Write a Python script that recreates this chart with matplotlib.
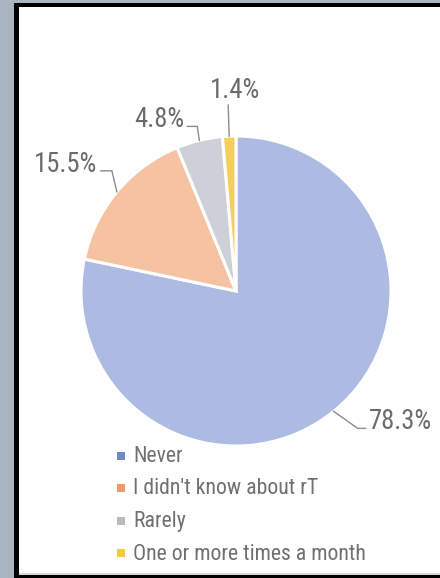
import matplotlib
matplotlib.use("Agg")
import matplotlib.pyplot as plt
from matplotlib.patches import Rectangle
from matplotlib import font_manager
from matplotlib.font_manager import FontProperties
import numpy as np

# ---- data ----
categories = ["Never", "I didn't know about rT", "Rarely", "One or more times a month"]
values = [78.3, 15.5, 4.8, 1.4]
value_labels = ["78.3%", "15.5%", "4.8%", "1.4%"]
pie_colors = ["#adbbe3", "#f5c3a1", "#cdd0d7", "#f4cf5a"]
legend_colors = ["#6f8bc6", "#ec9a6d", "#b9babf", "#f5c944"]

# ---- pick a narrow font if available ----
flist = font_manager.fontManager.ttflist
names = {f.name for f in flist}
fam, stretch = "Liberation Sans", "normal"
for cand in ["Liberation Sans Narrow", "Arial Narrow", "Roboto Condensed", "Open Sans Condensed"]:
    if cand in names:
        fam = cand
        break
else:
    for cand in ["Roboto", "Open Sans", "DejaVu Sans", "Noto Sans", "Liberation Sans"]:
        if any(f.name == cand and f.stretch in ("condensed", "semi-condensed", 600 - 100, 300)
               for f in flist):
            fam, stretch = cand, "condensed"
            break
plt.rcParams["font.family"] = [fam, "DejaVu Sans"]
plt.rcParams["font.stretch"] = stretch

W, H = 440, 578
fig = plt.figure(figsize=(W / 100, H / 100), dpi=100, facecolor="#a9b6bf")
ax = fig.add_axes([0, 0, 1, 1])
ax.set_facecolor("none")
renderer = fig.canvas.get_renderer()


def fit_size(s, target_px, base=10.0):
    t = fig.text(0, 0, s, fontsize=base)
    w = t.get_window_extent(renderer).width
    t.remove()
    return base * target_px / w


lab_fs = min(fit_size("78.3%", 63), 19.5)
leg_fs = min(fit_size("One or more times a month", 232), 16.7)

# frame: black border + white panel
ax.add_patch(Rectangle((14, 3), 500, 600, facecolor="black", edgecolor="none", zorder=0))
ax.add_patch(Rectangle((19, 7), 500, 568, facecolor="white", edgecolor="none", zorder=0))
ax.add_patch(Rectangle((19, 573), 500, 2, facecolor="#d8d8d8", edgecolor="none", zorder=0))

cx, cy, R = 236, 291, 155
# y axis inverted: screen clockwise from top == data counterclockwise from -90
wedges, _ = ax.pie(values, colors=pie_colors, startangle=-90, counterclock=True,
                   center=(cx, cy), radius=R, frame=True,
                   wedgeprops=dict(edgecolor="white", linewidth=2.2))
ax.set_xlim(0, W)
ax.set_ylim(H, 0)
ax.set_aspect("equal")
ax.axis("off")

txt_color = "#6b6b6b"
label_layout = [
    # dx_elbow, dy_elbow, dx_end, ha, text_dx
    (24, 17, 8, "left", 3),       # Never
    (-5, -21, -11, "right", -4),  # didn't know
    (-2, -14, -10, "right", -3),  # Rarely
    (-1, -31, 0, "center", 7),    # monthly
]
for i, w in enumerate(wedges):
    mid = np.deg2rad((w.theta1 + w.theta2) / 2)
    ex, ey = cx + R * np.cos(mid), cy + R * np.sin(mid)
    dxe, dye, dxend, ha, tdx = label_layout[i]
    bx, by = ex + dxe, ey + dye
    endx = bx + dxend
    ax.plot([ex, bx, endx], [ey, by, by], color="#8c8c8c", lw=1.0, zorder=3)
    ty = by - 7 if ha == "center" else by + 1
    ax.text(endx + tdx, ty, value_labels[i], ha=ha, va="baseline",
            fontsize=lab_fs, color=txt_color, zorder=4)

# legend
leg_y = [456, 488, 521, 553]
for c, lab, yy in zip(legend_colors, categories, leg_y):
    ax.add_patch(Rectangle((117, yy - 4), 8, 8, facecolor=c, edgecolor="none", zorder=4))
    ax.text(133, yy + 1, lab, ha="left", va="center", fontsize=leg_fs, color="#707070", zorder=4)

fig.savefig("out.png", dpi=100, facecolor=fig.get_facecolor())
